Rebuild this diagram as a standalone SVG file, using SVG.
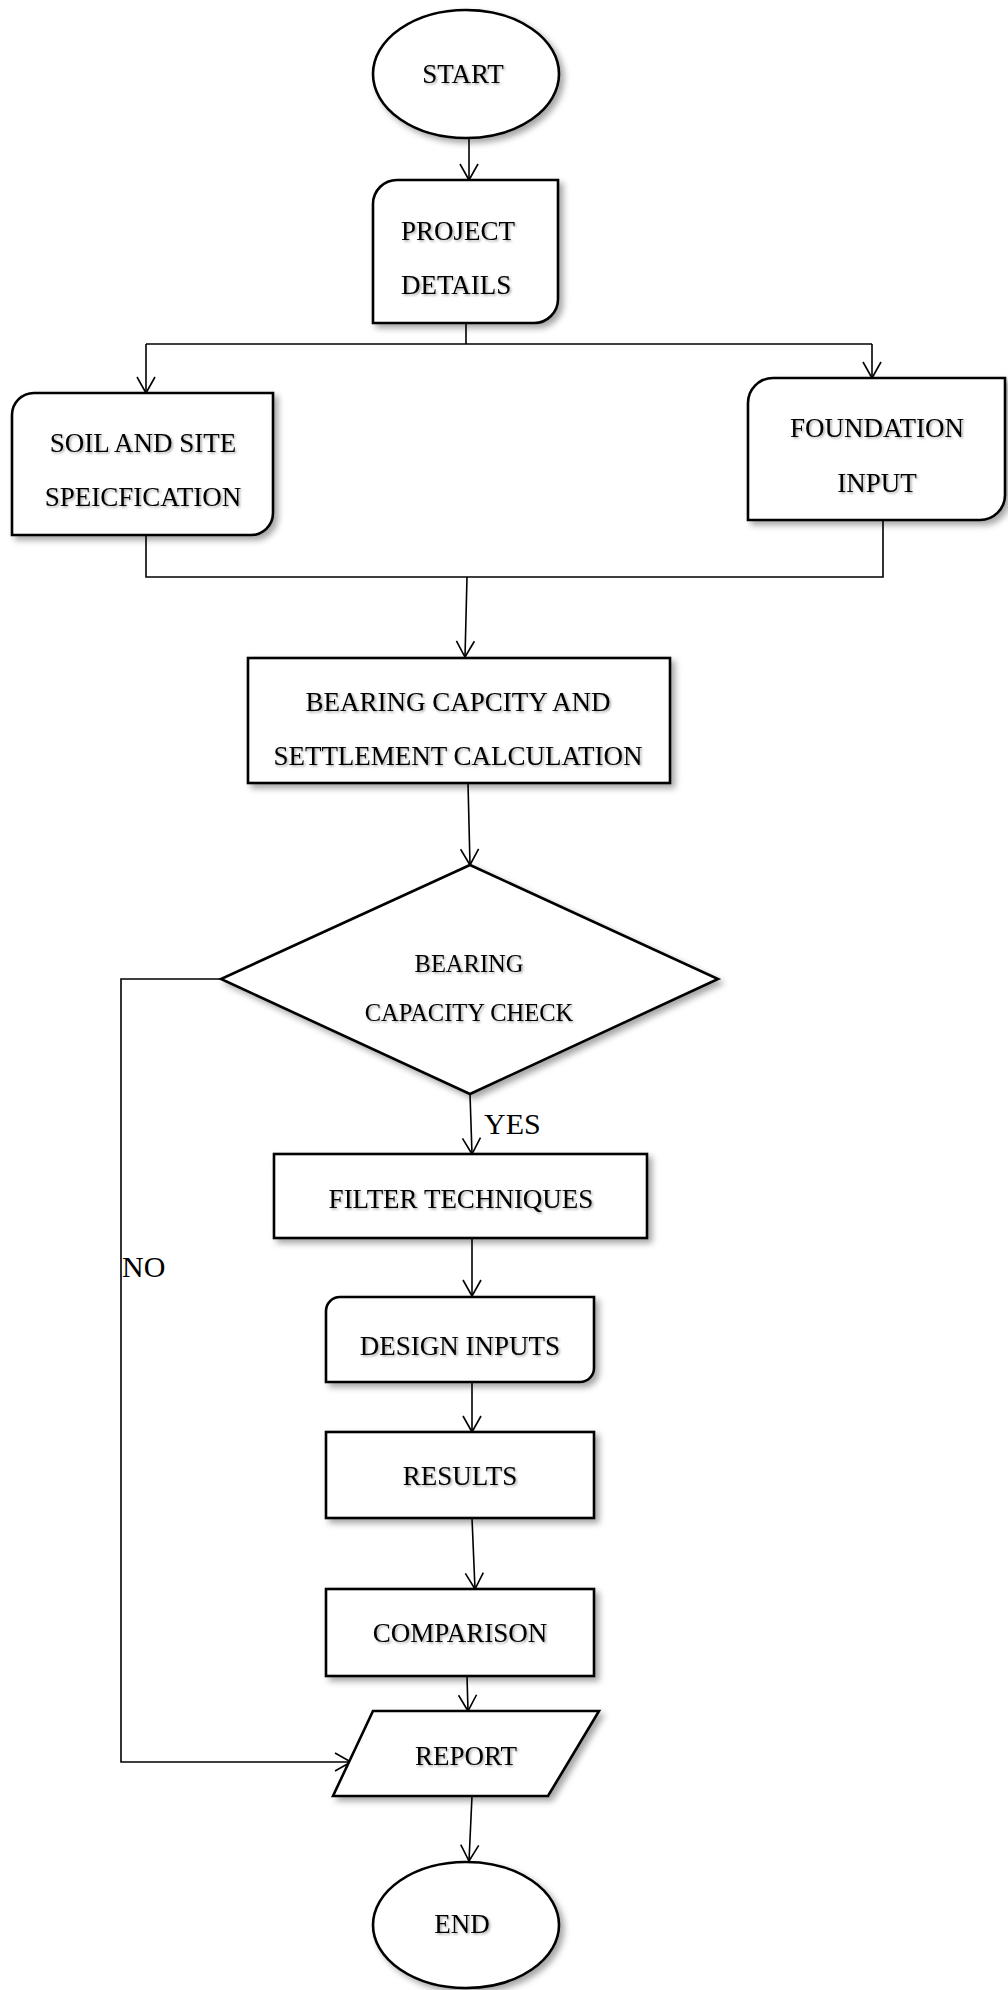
<svg xmlns="http://www.w3.org/2000/svg" width="1008" height="1990" viewBox="0 0 1008 1990">
<defs>
<filter id="sh" x="-10%" y="-10%" width="130%" height="130%">
<feDropShadow dx="4" dy="4" stdDeviation="3" flood-color="#000" flood-opacity="0.35"/>
</filter>
<filter id="tsh" x="-10%" y="-20%" width="130%" height="150%">
<feDropShadow dx="1.5" dy="1.5" stdDeviation="1.2" flood-color="#000" flood-opacity="0.35"/>
</filter>
<marker id="arr" markerUnits="userSpaceOnUse" markerWidth="20" markerHeight="20" refX="16" refY="9" orient="auto" overflow="visible">
<path d="M0,0 L16,9 L0,18" fill="none" stroke="#000" stroke-width="1.6"/>
</marker>
</defs>
<style>
.shape{fill:#fff;stroke:#000;stroke-width:2.6;filter:url(#sh)}
.t{font-family:"Liberation Serif","Times New Roman",serif;font-size:27px;fill:#000;filter:url(#tsh)}
.c{text-anchor:middle}
.d{font-size:24.5px}
.lbl{font-family:"Liberation Serif","Times New Roman",serif;font-size:30px;fill:#000}
.cn{fill:none;stroke:#000;stroke-width:1.6}
.ar{marker-end:url(#arr)}
</style>
<rect width="1008" height="1990" fill="#fff"/>
<g id="connectors">
<path class="cn ar" d="M469,138 L469,180"/>
<path class="cn" d="M466,323 L466,344 M146,344 H872"/>
<path class="cn ar" d="M146,344 V393"/>
<path class="cn ar" d="M872,344 V378"/>
<path class="cn" d="M146,535 V577 H883 V520"/>
<path class="cn ar" d="M467,577 L465,657"/>
<path class="cn ar" d="M468,783 L470,865"/>
<path class="cn ar" d="M470,1094 L472,1154"/>
<path class="cn ar" d="M472,1238 L472,1296"/>
<path class="cn ar" d="M472,1382 L472,1432"/>
<path class="cn ar" d="M472,1518 L475,1589"/>
<path class="cn ar" d="M467,1676 L468,1711"/>
<path class="cn ar" d="M472,1796 L469,1861"/>
<path class="cn ar" d="M221,979 H121 V1762 H351"/>
<text class="lbl" x="484" y="1134">YES</text>
<text class="lbl" x="122" y="1277">NO</text>
</g>
<g id="start">
<ellipse class="shape" cx="466" cy="74" rx="93" ry="64"/>
<text class="t c" x="463" y="83">START</text>
</g>
<g id="project">
<path class="shape" d="M397,180 H558 V299 A24,24 0 0 1 534,323 H373 V204 A24,24 0 0 1 397,180 Z"/>
<text class="t" x="401" y="240">PROJECT</text>
<text class="t" x="401" y="294">DETAILS</text>
</g>
<g id="soil">
<path class="shape" d="M34,393 H273 V513 A22,22 0 0 1 251,535 H12 V415 A22,22 0 0 1 34,393 Z"/>
<text class="t c" x="143" y="452">SOIL AND SITE</text>
<text class="t c" x="143" y="506">SPEICFICATION</text>
</g>
<g id="foundation">
<path class="shape" d="M773,378 H1005 V495 A25,25 0 0 1 980,520 H748 V403 A25,25 0 0 1 773,378 Z"/>
<text class="t c" x="877" y="437">FOUNDATION</text>
<text class="t c" x="877" y="492">INPUT</text>
</g>
<g id="bearing">
<rect class="shape" x="248" y="658" width="422" height="125"/>
<text class="t c" x="458" y="711">BEARING CAPCITY AND</text>
<text class="t c" x="458" y="765">SETTLEMENT CALCULATION</text>
</g>
<g id="check">
<polygon class="shape" points="470,865 718,979 470,1094 221,979"/>
<text class="t c d" x="469" y="972">BEARING</text>
<text class="t c d" x="469" y="1021">CAPACITY CHECK</text>
</g>
<g id="filter">
<rect class="shape" x="274" y="1154" width="373" height="84"/>
<text class="t c" x="461" y="1208">FILTER TECHNIQUES</text>
</g>
<g id="design">
<path class="shape" d="M340,1297 H594 V1368 A14,14 0 0 1 580,1382 H326 V1311 A14,14 0 0 1 340,1297 Z"/>
<text class="t c" x="460" y="1355">DESIGN INPUTS</text>
</g>
<g id="results">
<rect class="shape" x="326" y="1432" width="268" height="86"/>
<text class="t c" x="460" y="1485">RESULTS</text>
</g>
<g id="comparison">
<rect class="shape" x="326" y="1589" width="268" height="87"/>
<text class="t c" x="460" y="1642">COMPARISON</text>
</g>
<g id="report">
<polygon class="shape" points="373,1711 599,1711 548,1796 333,1796"/>
<text class="t c" x="466" y="1765">REPORT</text>
</g>
<g id="end">
<ellipse class="shape" cx="466" cy="1925" rx="93" ry="63"/>
<text class="t c" x="462" y="1933">END</text>
</g>
</svg>
